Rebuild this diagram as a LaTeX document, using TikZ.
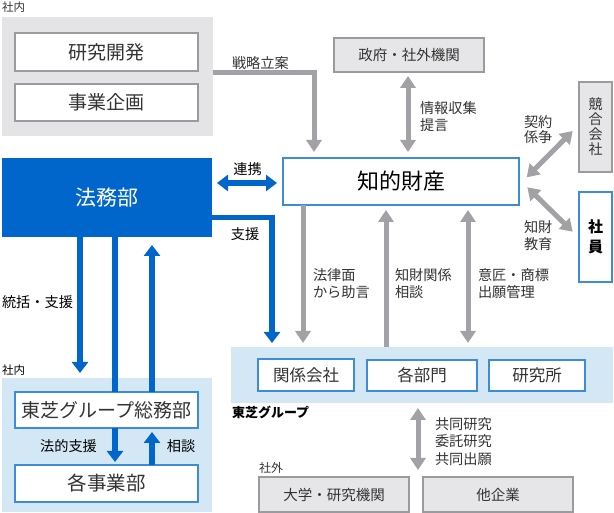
\documentclass[tikz,border=0pt]{standalone}
\usepackage{fontspec}
\setmainfont{Noto Sans CJK JP}
\usetikzlibrary{arrows.meta}
\definecolor{mblue}{HTML}{0066CC}
\definecolor{bborder}{HTML}{3D8BDB}
\definecolor{lblue}{HTML}{D4E7F5}
\definecolor{greg}{HTML}{E4E4E6}
\definecolor{gbox}{HTML}{E6E6E8}
\definecolor{gborder}{HTML}{9B9B9F}
\definecolor{garr}{HTML}{A2A2A6}
\definecolor{txt}{HTML}{333333}
\newcommand\fsz[2]{\fontsize{#1}{#2}\selectfont}
\begin{document}
\begin{tikzpicture}[x=1pt,y=-1pt,
  every node/.style={inner sep=0pt, outer sep=0pt, text=txt},
  region/.style={fill=#1, draw=none},
  wbox/.style={fill=white, draw=gborder, line width=1.1pt},
  bbox/.style={fill=white, draw=bborder, line width=1.3pt},
  gbx/.style={fill=gbox, draw=gborder, line width=1.1pt},
  lbl/.style={font=\fsz{14.2}{17.5}, align=left},
  garrow/.style={draw=garr, line width=5pt, -{Triangle[width=15pt,length=12pt]}},
  garrow2/.style={draw=garr, line width=5pt, {Triangle[width=15pt,length=12pt]}-{Triangle[width=15pt,length=12pt]}},
  bline/.style={draw=mblue, line width=5.5pt},
  barrow/.style={draw=mblue, line width=5.5pt, -{Triangle[width=16pt,length=11pt]}},
  barrow2/.style={draw=mblue, line width=5.5pt, {Triangle[width=16pt,length=11pt]}-{Triangle[width=16pt,length=11pt]}}
]
\useasboundingbox (0,0) rectangle (614,513);

% regions
\node[region=greg, minimum width=211pt, minimum height=119pt] (regTop) at (107.5,76.5) {};
\node[region=lblue, minimum width=382pt, minimum height=56pt] (grp) at (422,375) {};
\node[region=lblue, minimum width=210pt, minimum height=134pt] (in2) at (107,445) {};

% boxes
\node[wbox, minimum width=183pt, minimum height=38pt, font=\fsz{19}{19}] (rd) at (106.5,52) {研究開発};
\node[wbox, minimum width=183pt, minimum height=37pt, font=\fsz{19}{19}] (jk) at (106.5,102.5) {事業企画};
\node[gbx, minimum width=150pt, minimum height=34pt, font=\fsz{14.5}{14.5}] (gov) at (409,55) {政府・社外機関};
\node[bbox, minimum width=236pt, minimum height=47pt, font=\fsz{22}{22}, text=black] (ip) at (401,181.5) {知的財産};
\node[gbx, minimum width=33pt, minimum height=90pt, font=\fsz{14}{15}, align=center] (comp) at (595.5,127) {競\\合\\会\\社};
\node[bbox, minimum width=33pt, minimum height=90pt, font=\fsz{15}{20}\bfseries, align=center, text=black] (emp) at (595.5,237) {社\\員};
\node[fill=mblue, minimum width=210pt, minimum height=79pt, font=\fsz{21}{21}, text=white] (legal) at (107,197.5) {法務部};
\node[bbox, minimum width=96pt, minimum height=32pt, font=\fsz{16.5}{16.5}] (kk) at (306,375) {関係会社};
\node[bbox, minimum width=110pt, minimum height=31pt, font=\fsz{16.5}{16.5}] (kb) at (422,375.5) {各部門};
\node[bbox, minimum width=96pt, minimum height=31pt, font=\fsz{16.5}{16.5}] (lab) at (537,375.5) {研究所};
\node[bbox, minimum width=183pt, minimum height=36pt, font=\fsz{19}{19}] (gs) at (106.5,410) {東芝グループ総務部};
\node[bbox, minimum width=183pt, minimum height=37pt, font=\fsz{19.5}{19.5}] (jb) at (106.5,483.5) {各事業部};
\node[gbx, minimum width=150pt, minimum height=35pt, font=\fsz{14.5}{14.5}] (univ) at (334,494.5) {大学・研究機関};
\node[gbx, minimum width=150pt, minimum height=35pt, font=\fsz{14.5}{14.5}] (oc) at (498,494.5) {他企業};

% helper coordinates
\coordinate (y73) at (0,73);
\coordinate (x314) at (314,0);
\coordinate (x408) at (408,0);
\coordinate (x303) at (303,0);
\coordinate (x386) at (386,0);
\coordinate (x468) at (468,0);
\coordinate (x418) at (418,0);
\coordinate (y183) at (0,183);
\coordinate (y217) at (0,217.5);
\coordinate (x272) at (272,0);
\coordinate (x80) at (80,0);
\coordinate (x115) at (115,0);
\coordinate (x152) at (152,0);
\coordinate (a1) at (526.7,177.3);
\coordinate (a2) at (572.7,131);
\coordinate (b1) at (527.3,187.3);
\coordinate (b2) at (572.7,231.7);

% gray arrows
\draw[garrow, shorten >=6pt] (regTop.east |- y73) -| (ip.north -| x314);
\draw[garrow2, shorten <=4pt, shorten >=6pt] (gov.south -| x408) -- (ip.north -| x408);
\draw[garrow, shorten >=4pt] (ip.south -| x303) -- (grp.north -| x303);
\draw[garrow, shorten >=5pt] (grp.north -| x386) -- (ip.south -| x386);
\draw[garrow2, shorten <=5pt, shorten >=4pt] (ip.south -| x468) -- (grp.north -| x468);
\draw[garrow2, shorten <=5pt, shorten >=7pt] (grp.south -| x418) -- (oc.north -| x418);
\draw[garrow2] (a1) -- (a2);
\draw[garrow2] (b1) -- (b2);

% blue arrows
\draw[barrow2, shorten <=5pt, shorten >=6pt] (legal.east |- y183) -- (ip.west |- y183);
\draw[barrow, shorten >=4pt] (legal.east |- y217) -| (grp.north -| x272);
\draw[barrow, shorten >=5pt] (legal.south -| x80) -- (in2.north -| x80);
\draw[bline] (legal.south -| x115) -- (gs.north -| x115);
\draw[barrow, shorten >=8pt] (gs.north -| x152) -- (legal.south -| x152);
\draw[barrow, shorten >=3pt] (gs.south -| x115) -- (jb.north -| x115);
\draw[barrow, shorten >=4pt] (jb.north -| x152) -- (gs.south -| x152);

% labels
\node[font=\fsz{11.5}{11.5}, anchor=west] (l1) at (2,7.5) {社内};
\node[lbl, anchor=west] (l2) at (232,63) {戦略立案};
\node[lbl, anchor=west] (l3) at (420,116.5) {情報収集\\提言};
\node[lbl, anchor=west, font=\fsz{14.2}{15.5}] (l4) at (524,129.5) {契約\\係争};
\node[lbl, anchor=west, font=\fsz{14.2}{16.5}] (l5) at (524,235.5) {知財\\教育};
\node[lbl, text=black] (l6) at (247.5,169) {連携};
\node[lbl, text=black] (l7) at (245,234) {支援};
\node[lbl, anchor=west, text=black] (l8) at (2,302.5) {統括・支援};
\node[lbl, anchor=west, font=\fsz{14.2}{17}] (l9) at (313,283.5) {法律面\\から助言};
\node[lbl, anchor=west, font=\fsz{14.2}{17}] (l10) at (395,283.5) {知財関係\\相談};
\node[lbl, anchor=west, font=\fsz{14.2}{17}] (l11) at (478,283.5) {意匠・商標\\出願管理};
\node[font=\fsz{11.5}{11.5}, anchor=west, text=black] (l12) at (2,370) {社内};
\node[lbl, text=black] (l13) at (68.5,446) {法的支援};
\node[lbl, text=black] (l14) at (181,446) {相談};
\node[font=\fsz{13}{13}\bfseries, anchor=west, text=black] (l15) at (232,412.5) {東芝グループ};
\node[lbl, anchor=west] (l16) at (435,441.5) {共同研究\\委託研究\\共同出願};
\node[font=\fsz{12}{12}, anchor=west] (l17) at (259,467.5) {社外};
\end{tikzpicture}
\end{document}
